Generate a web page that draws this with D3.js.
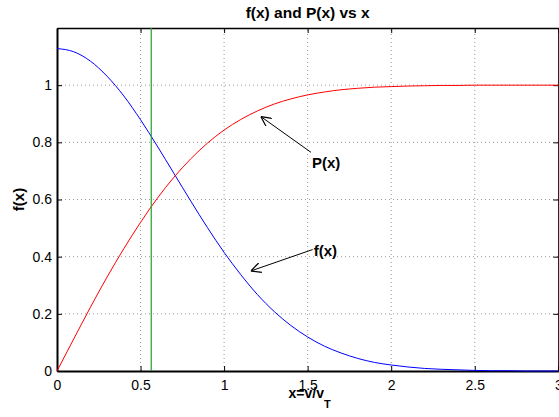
<!DOCTYPE html>
<html>
<head>
<meta charset="utf-8">
<script src="https://cdn.jsdelivr.net/npm/d3@7"></script>
<style>
  body { margin: 0; background: #fff; }
  svg { display: block; font-family: "Liberation Sans", Arial, sans-serif; }
</style>
</head>
<body>
<svg width="559" height="417"></svg>
<script>
// values
const xs = [0, 0.1, 0.2, 0.3, 0.4, 0.5, 0.6, 0.7, 0.8, 0.9, 1.0, 1.1, 1.2, 1.3, 1.4, 1.5,
  1.6, 1.7, 1.8, 1.9, 2.0, 2.1, 2.2, 2.3, 2.4, 2.5, 2.6, 2.7, 2.8, 2.9, 3.0];
const fVals = [1.128, 1.117, 1.084, 1.031, 0.962, 0.879, 0.787, 0.691, 0.595, 0.502, 0.415,
  0.337, 0.267, 0.208, 0.159, 0.119, 0.087, 0.063, 0.044, 0.030, 0.021, 0.014, 0.009,
  0.006, 0.004, 0.002, 0.001, 0.001, 0, 0, 0];
const pVals = [0, 0.112, 0.223, 0.329, 0.428, 0.520, 0.604, 0.678, 0.742, 0.797, 0.843,
  0.880, 0.910, 0.934, 0.952, 0.966, 0.976, 0.984, 0.989, 0.993, 0.995, 0.997, 0.998,
  0.999, 0.999, 1, 1, 1, 1, 1, 1];
const markX = 0.564;
const xTicks = [0, 0.5, 1, 1.5, 2, 2.5, 3];
const yTicks = [0, 0.2, 0.4, 0.6, 0.8, 1];
const notes = [
  { label: "P(x)", from: [1.52, 0.765], to: [1.22, 0.89] },
  { label: "f(x)", from: [1.53, 0.425], to: [1.16, 0.35] }
];

const svg = d3.select("svg");
const margin = { top: 28, right: 0.7, bottom: 46, left: 57 };
const width = +svg.attr("width");
const height = +svg.attr("height");

const x = d3.scaleLinear().domain([0, 3]).range([margin.left, width - margin.right]);
const y = d3.scaleLinear().domain([0, 1.2]).range([height - margin.bottom, margin.top]);

svg.append("defs").append("marker")
  .attr("id", "arrow")
  .attr("viewBox", "0 0 10 10")
  .attr("refX", 10).attr("refY", 5)
  .attr("markerWidth", 10).attr("markerHeight", 10)
  .attr("markerUnits", "userSpaceOnUse")
  .attr("orient", "auto")
  .append("path")
  .attr("d", "M0,0L10,5L0,10")
  .attr("fill", "none")
  .attr("stroke", "#000")
  .attr("stroke-width", 1.2);

// grid
const grid = svg.append("g")
  .attr("stroke", "#999")
  .attr("stroke-width", 1)
  .attr("stroke-dasharray", "1,3");
grid.selectAll(".gx").data(xTicks.slice(1, -1)).join("line")
  .attr("x1", d => x(d)).attr("x2", d => x(d))
  .attr("y1", y(0)).attr("y2", y(1.2));
grid.selectAll(".gy").data(yTicks.slice(1)).join("line")
  .attr("x1", x(0)).attr("x2", x(3))
  .attr("y1", d => y(d)).attr("y2", d => y(d));

// axes
const xAxis = svg.append("g")
  .attr("transform", `translate(0,${y(0)})`)
  .call(d3.axisBottom(x).tickValues(xTicks).tickFormat(d3.format("")).tickSizeInner(-5).tickSizeOuter(0));
const xTop = svg.append("g")
  .attr("transform", `translate(0,${y(1.2)})`)
  .call(d3.axisTop(x).tickValues(xTicks).tickFormat("").tickSizeInner(-5).tickSizeOuter(0));
const yAxis = svg.append("g")
  .attr("transform", `translate(${x(0)},0)`)
  .call(d3.axisLeft(y).tickValues(yTicks).tickFormat(d3.format("")).tickSizeInner(-5).tickSizeOuter(0).tickPadding(5));
const yRight = svg.append("g")
  .attr("transform", `translate(${x(3)},0)`)
  .call(d3.axisRight(y).tickValues(yTicks).tickFormat("").tickSizeInner(-5).tickSizeOuter(0));

[xAxis, xTop, yAxis, yRight].forEach(g => {
  g.selectAll(".domain").attr("stroke", "#000").attr("stroke-width", 1.3);
  g.selectAll(".tick line").attr("stroke", "#000");
  g.selectAll(".tick text").attr("fill", "#000").attr("font-size", 14)
    .attr("font-family", "Liberation Sans, Arial, sans-serif");
});
xAxis.select(".domain").attr("stroke-width", 2);
yAxis.select(".domain").attr("stroke-width", 2);
xAxis.selectAll(".tick text").attr("y", 19).attr("dy", 0);

// curves
const line = d3.line()
  .x((d, i) => x(xs[i]))
  .y(d => y(d))
  .curve(d3.curveMonotoneX);

svg.append("path")
  .datum(fVals)
  .attr("fill", "none")
  .attr("stroke", "#0000ff")
  .attr("stroke-width", 1)
  .attr("d", line);

svg.append("path")
  .datum(pVals)
  .attr("fill", "none")
  .attr("stroke", "#ff0000")
  .attr("stroke-width", 1)
  .attr("d", line);

svg.append("line")
  .attr("x1", x(markX)).attr("x2", x(markX))
  .attr("y1", y(0)).attr("y2", y(1.2))
  .attr("stroke", "#22a02a")
  .attr("stroke-width", 1.2);

// annotations
const ann = svg.append("g");
ann.selectAll("line").data(notes).join("line")
  .attr("x1", d => x(d.from[0])).attr("y1", d => y(d.from[1]))
  .attr("x2", d => x(d.to[0])).attr("y2", d => y(d.to[1]))
  .attr("stroke", "#000")
  .attr("stroke-width", 1)
  .attr("marker-end", "url(#arrow)");
ann.selectAll("text").data(notes).join("text")
  .attr("x", d => x(d.from[0]) + 1)
  .attr("y", (d, i) => y(d.from[1]) + (i === 0 ? 16 : 6))
  .attr("font-size", 15)
  .attr("font-weight", "bold")
  .text(d => d.label);

// title and labels
svg.append("text")
  .attr("x", (x(0) + x(3)) / 2)
  .attr("y", 18)
  .attr("text-anchor", "middle")
  .attr("font-size", 15.5)
  .attr("font-weight", "bold")
  .text("f(x) and P(x) vs x");

const xl = svg.append("text")
  .attr("x", (x(0) + x(3)) / 2 + 2)
  .attr("y", 398)
  .attr("text-anchor", "middle")
  .attr("font-size", 14)
  .attr("font-weight", "bold");
xl.append("tspan").text("x=v/v");
xl.append("tspan").attr("dy", 10).attr("font-size", 11).text("T");

svg.append("text")
  .attr("transform", `translate(24,${(y(0) + y(1.2)) / 2}) rotate(-90)`)
  .attr("text-anchor", "middle")
  .attr("font-size", 15)
  .attr("font-weight", "bold")
  .text("f(x)");
</script>
</body>
</html>
